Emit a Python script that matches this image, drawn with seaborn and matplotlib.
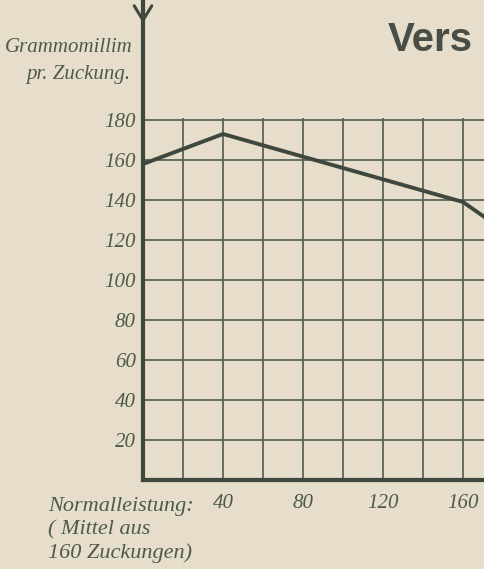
import matplotlib
matplotlib.use("Agg")
import matplotlib.pyplot as plt
import seaborn as sns
import pandas as pd

# Zuckungen (x) und Grammomillimeter pr. Zuckung (y)
zuckungen = [0, 40, 160, 180]
leistung = [158, 173, 139, 125]

y_ticks = [20, 40, 60, 80, 100, 120, 140, 160, 180]
x_ticks = [40, 80, 120, 160]
x_grid = [20, 60, 100, 140, 180]

paper = "#e6ddcb"
ink = "#3f483e"
text_ink = "#4f5a4d"

sns.set_theme(style="white")
plt.rcParams["font.family"] = ["Liberation Serif", "DejaVu Serif"]

df = pd.DataFrame({"zuckungen": zuckungen, "leistung": leistung})

fig = plt.figure(figsize=(4.84, 5.69), dpi=100, facecolor=paper)
ax = fig.add_axes([143 / 484, 89 / 569, 400 / 484, 362 / 569])
ax.set_facecolor(paper)

sns.lineplot(data=df, x="zuckungen", y="leistung", ax=ax,
             color=ink, linewidth=2.8, zorder=5)

ax.set_xlim(0, 200)
ax.set_ylim(0, 181)
ax.set_xticks(x_ticks)
ax.set_xticks(x_grid, minor=True)
ax.set_xticklabels([str(v) for v in x_ticks])
ax.set_yticks(y_ticks)
ax.set_yticklabels([str(v) for v in y_ticks])
ax.grid(True, which="both", color="#5b6459", linewidth=1.3)
ax.set_xlabel("")
ax.set_ylabel("")

for side in ["top", "right"]:
    ax.spines[side].set_visible(False)
for side in ["left", "bottom"]:
    ax.spines[side].set_color(ink)
    ax.spines[side].set_linewidth(3)

ax.tick_params(axis="y", length=0, pad=5, labelsize=15, labelcolor=text_ink)
ax.tick_params(axis="x", which="major", length=4, width=2, color=ink,
               direction="out", pad=6, labelsize=15, labelcolor=text_ink)
ax.tick_params(axis="x", which="minor", length=0)
for lab in ax.get_xticklabels() + ax.get_yticklabels():
    lab.set_style("italic")

# Achse nach oben verlaengert, mit Pfeil
ax.plot([0, 0], [1, 1.33], transform=ax.transAxes, color=ink,
        linewidth=3, clip_on=False)
ax.plot([-0.022, 0, 0.022], [1.31, 1.27, 1.31], transform=ax.transAxes,
        color=ink, linewidth=2.2, clip_on=False)

fig.text(133 / 484, 1 - 48 / 569, "Grammomillim", ha="right", va="center",
         fontsize=15, style="italic", color=text_ink)
fig.text(130 / 484, 1 - 75 / 569, "pr. Zuckung.", ha="right", va="center",
         fontsize=15, style="italic", color=text_ink)

fig.text(48 / 484, 1 - 507 / 569, "Normalleistung:", ha="left", va="center",
         fontsize=16, style="italic", color=text_ink)
fig.text(48 / 484, 1 - 530 / 569, "( Mittel aus", ha="left", va="center",
         fontsize=16, style="italic", color=text_ink)
fig.text(48 / 484, 1 - 553 / 569, "160 Zuckungen)", ha="left", va="center",
         fontsize=16, style="italic", color=text_ink)

fig.text(388 / 484, 1 - 40 / 569, "Vers", ha="left", va="center",
         fontsize=29, fontweight="bold", family="Liberation Sans",
         color="#474d47")

fig.savefig("out.png", dpi=100, facecolor=paper)
